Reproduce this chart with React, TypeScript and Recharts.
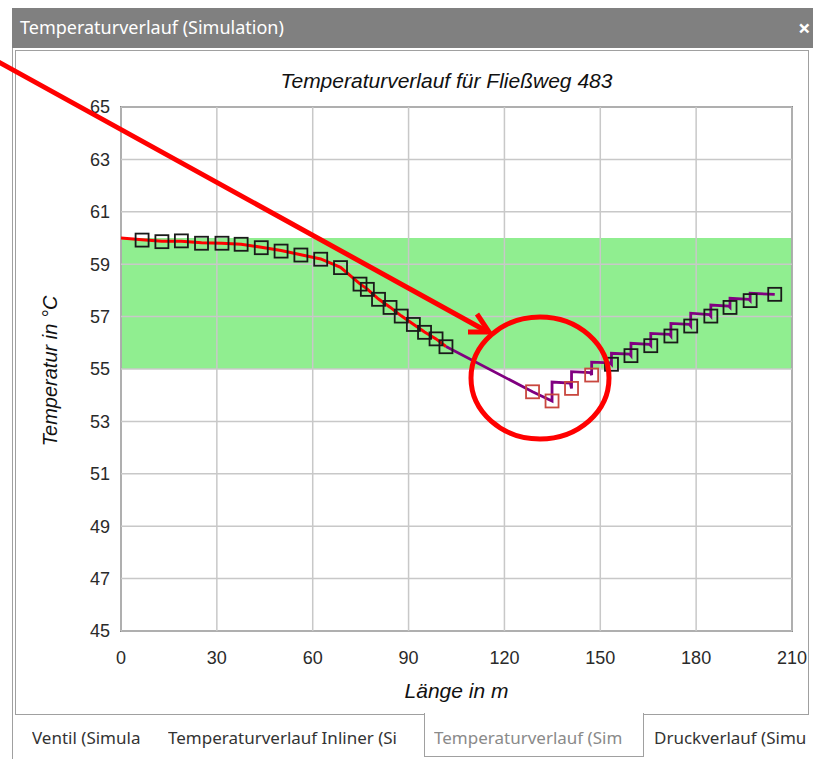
import React from 'react';
import { ComposedChart, Line, Scatter, XAxis, YAxis, ReferenceArea, ReferenceLine } from 'recharts';

// Axis ticks
const xTicks = [0, 30, 60, 90, 120, 150, 180, 210];
const yTicks = [45, 47, 49, 51, 53, 55, 57, 59, 61, 63, 65];

// Allowed temperature band
const bandLow = 55;
const bandHigh = 60;

// Red line (upstream part of the flow path)
const redX = [0, 6.6, 12.8, 18.9, 25.2, 31.6, 37.6, 43.9, 50.1, 56.3, 62.5, 68.7, 74.8, 77.1, 80.6, 84.2, 87.7, 91.5, 95.0, 98.6, 101.7];
const redT = [60.0, 59.93, 59.88, 59.88, 59.82, 59.8, 59.76, 59.65, 59.52, 59.36, 59.2, 58.88, 58.25, 58.05, 57.67, 57.36, 57.03, 56.71, 56.41, 56.15, 55.86];

// Purple line (downstream part, stepped)
const purpleX = [101.7, 128.8, 134.9, 134.9, 140.6, 141.0, 141.0, 146.9, 147.3, 147.3, 153.1, 153.5, 153.5, 159.2, 159.6, 159.6, 165.4, 165.8, 165.8, 171.7, 172.1, 172.1, 177.9, 178.3, 178.3, 184.2, 184.6, 184.6, 190.2, 190.6, 190.6, 196.5, 196.9, 196.9, 204.6];
const purpleT = [55.86, 54.13, 53.78, 54.5, 54.46, 54.26, 54.9, 54.86, 54.77, 55.26, 55.23, 55.18, 55.6, 55.57, 55.51, 55.98, 55.94, 55.89, 56.36, 56.32, 56.26, 56.74, 56.7, 56.64, 57.13, 57.08, 57.02, 57.44, 57.4, 57.35, 57.7, 57.66, 57.61, 57.89, 57.85];

// Nodes inside the band (black squares)
const okX = [6.6, 12.8, 18.9, 25.2, 31.6, 37.6, 43.9, 50.1, 56.3, 62.5, 68.7, 74.8, 77.1, 80.6, 84.2, 87.7, 91.5, 95.0, 98.6, 101.7, 153.5, 159.6, 165.8, 172.1, 178.3, 184.6, 190.6, 196.9, 204.6];
const okT = [59.92, 59.86, 59.89, 59.8, 59.8, 59.76, 59.63, 59.5, 59.35, 59.19, 58.87, 58.24, 58.04, 57.66, 57.35, 57.02, 56.7, 56.4, 56.15, 55.85, 55.18, 55.51, 55.89, 56.26, 56.64, 57.02, 57.35, 57.61, 57.85];

// Nodes below the band (red squares)
const lowX = [128.8, 134.9, 141.0, 147.3];
const lowT = [54.13, 53.78, 54.26, 54.77];

// Tab captions as far as they are visible
const tabs = ['Ventil (Simula', 'Temperaturverlauf Inliner (Si', 'Temperaturverlauf (Sim', 'Druckverlauf (Simu'];

const zip = (xs: number[], ts: number[]) => xs.map((x, i) => ({ x, t: ts[i] }));

const redData = zip(redX, redT);
const purpleData = zip(purpleX, purpleT);
const okData = zip(okX, okT);
const lowData = zip(lowX, lowT);

const squareShape = (color: string) => (props: any) => {
  const { cx, cy } = props;
  if (cx == null || cy == null) return <g />;
  return <rect x={cx - 6.5} y={cy - 6.5} width={13} height={13} fill="none" stroke={color} strokeWidth={1.8} />;
};

const uiFont = '"Noto Sans", "Open Sans", sans-serif';
const chartFont = '"Liberation Sans", Arial, sans-serif';

const tabStyle = (left: number, width: number, color: string): React.CSSProperties => ({
  position: 'absolute',
  left,
  top: 726,
  width,
  overflow: 'hidden',
  whiteSpace: 'nowrap',
  fontFamily: uiFont,
  fontSize: 17,
  color,
});

export default function App() {
  return (
    <div style={{ position: 'absolute', left: 0, top: 0, width: 813, height: 759, background: '#fff', overflow: 'hidden' }}>
      {/* window title bar */}
      <div style={{ position: 'absolute', left: 12, top: 8, width: 801, height: 40, background: '#808080' }} />
      <div style={{ position: 'absolute', left: 20, top: 15, color: '#fff', fontFamily: uiFont, fontSize: 18 }}>
        Temperaturverlauf (Simulation)
      </div>
      <div style={{ position: 'absolute', left: 798, top: 12, color: '#fff', fontFamily: uiFont, fontSize: 22, fontWeight: 'bold' }}>×</div>
      {/* outer window border */}
      <div style={{ position: 'absolute', left: 12, top: 48, width: 0, height: 711, borderLeft: '1px solid #a0a0a0' }} />
      {/* chart panel */}
      <div style={{ position: 'absolute', left: 15, top: 50, width: 792, height: 663, border: '1px solid #a0a0a0' }} />
      {/* selected tab */}
      <div style={{ position: 'absolute', left: 424, top: 713, width: 218, height: 43, background: '#fff', borderLeft: '1px solid #a0a0a0', borderRight: '1px solid #a0a0a0', borderBottom: '1px solid #a0a0a0' }} />
      <div style={tabStyle(32, 125, '#333')}>{tabs[0]}</div>
      <div style={tabStyle(168, 250, '#333')}>{tabs[1]}</div>
      <div style={tabStyle(434, 206, '#8a8a8a')}>{tabs[2]}</div>
      <div style={tabStyle(654, 159, '#333')}>{tabs[3]}</div>

      {/* chart title and axis titles */}
      <div style={{ position: 'absolute', left: 111, width: 671, top: 69, textAlign: 'center', fontFamily: chartFont, fontStyle: 'italic', fontSize: 21, color: '#111' }}>
        Temperaturverlauf für Fließweg 483
      </div>
      <div style={{ position: 'absolute', left: 121, width: 671, top: 679, textAlign: 'center', fontFamily: chartFont, fontStyle: 'italic', fontSize: 21, color: '#111' }}>
        Länge in m
      </div>
      <div style={{ position: 'absolute', left: 50, top: 371, transform: 'translate(-50%, -50%) rotate(-90deg)', whiteSpace: 'nowrap', fontFamily: chartFont, fontStyle: 'italic', fontSize: 20, color: '#111' }}>
        Temperatur in °C
      </div>

      <div style={{ position: 'absolute', left: 0, top: 0 }}>
        <ComposedChart width={813} height={759} margin={{ top: 107, right: 21, left: 61, bottom: 88 }}>
          <XAxis
            type="number"
            dataKey="x"
            domain={[0, 210]}
            ticks={xTicks}
            interval={0}
            allowDataOverflow
            axisLine={false}
            tickLine={false}
            tickSize={0}
            tickMargin={20}
            height={40}
            tick={{ fill: '#2a2a2a', fontSize: 18, fontFamily: chartFont }}
          />
          <YAxis
            type="number"
            dataKey="t"
            domain={[45, 65]}
            ticks={yTicks}
            interval={0}
            allowDataOverflow
            axisLine={false}
            tickLine={false}
            tickSize={0}
            tickMargin={11}
            width={60}
            tick={{ fill: '#2a2a2a', fontSize: 18, fontFamily: chartFont }}
          />
          <ReferenceArea x1={0} x2={210} y1={bandLow} y2={bandHigh} fill="#90ee90" fillOpacity={1} stroke="none" />
          {xTicks.map((x) => (
            <ReferenceLine key={'gx' + x} x={x} stroke="#c8c8c8" strokeWidth={1.5} />
          ))}
          {yTicks.map((y) => (
            <ReferenceLine key={'gy' + y} y={y} stroke="#c8c8c8" strokeWidth={1.5} />
          ))}
          <Line data={redData} dataKey="t" type="linear" stroke="#ff0000" strokeWidth={3} dot={false} isAnimationActive={false} />
          <Line data={purpleData} dataKey="t" type="linear" stroke="#800080" strokeWidth={2.8} dot={false} isAnimationActive={false} />
          <Scatter data={okData} dataKey="t" shape={squareShape('#1a1a1a')} isAnimationActive={false} />
          <Scatter data={lowData} dataKey="t" shape={squareShape('#c9473f')} isAnimationActive={false} />
          <ReferenceArea x1={0} x2={210} y1={45} y2={65} fill="none" stroke="#333" strokeWidth={1.5} />
        </ComposedChart>
      </div>

      {/* hand-drawn annotation: arrow and circle */}
      <svg width={813} height={759} style={{ position: 'absolute', left: 0, top: 0, pointerEvents: 'none' }}>
        <line x1={-5} y1={60} x2={488} y2={332} stroke="#ff0000" strokeWidth={5} />
        <polyline points="477,314 489,332 468,332" fill="none" stroke="#ff0000" strokeWidth={5} strokeLinejoin="miter" />
        <ellipse cx={540} cy={378} rx={69} ry={61} fill="none" stroke="#ff0000" strokeWidth={5} />
      </svg>
    </div>
  );
}
